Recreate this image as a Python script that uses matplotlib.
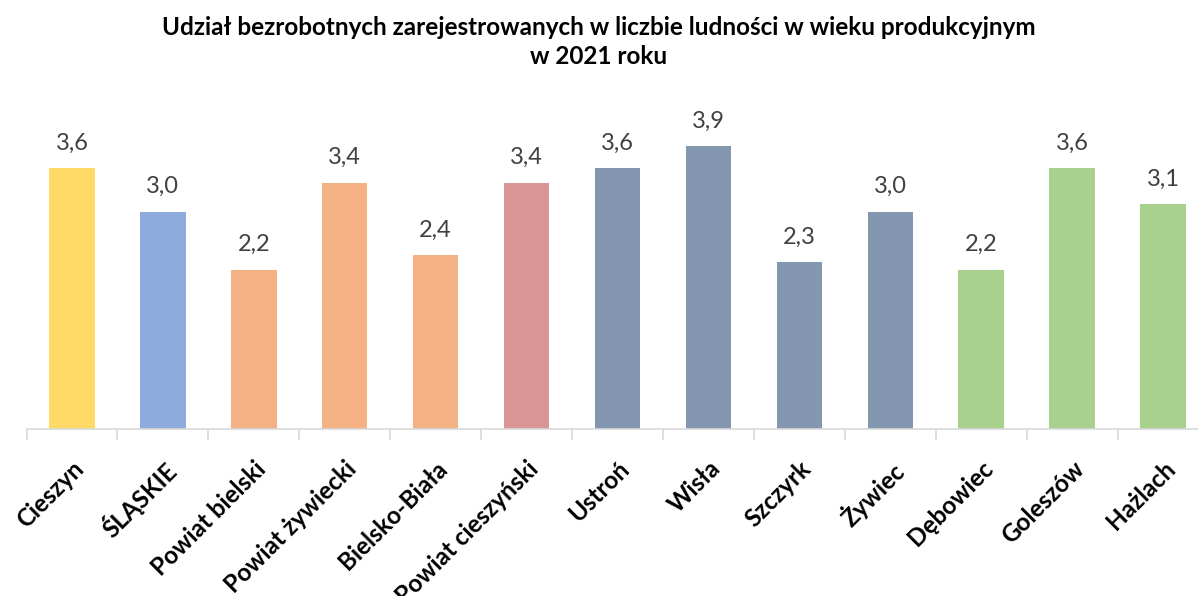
import matplotlib
matplotlib.use('Agg')
from matplotlib import pyplot as plt
import numpy as np

categories = ['Cieszyn', 'ŚLĄSKIE', 'Powiat bielski', 'Powiat żywiecki', 'Bielsko-Biała',
              'Powiat cieszyński', 'Ustroń', 'Wisła', 'Szczyrk', 'Żywiec', 'Dębowiec',
              'Goleszów', 'Hażlach']
values = [3.6, 3.0, 2.2, 3.4, 2.4, 3.4, 3.6, 3.9, 2.3, 3.0, 2.2, 3.6, 3.1]
colors = ['#FFD966', '#8FAADC', '#F4B183', '#F4B183', '#F4B183', '#D99694',
          '#8497B0', '#8497B0', '#8497B0', '#8497B0', '#A9D18E', '#A9D18E', '#A9D18E']

plt.rcParams['font.family'] = ['Lato', 'DejaVu Sans']

fig = plt.figure(figsize=(11.98, 5.96), dpi=100)
ax = fig.add_axes([26.5 / 1198, 1 - 429 / 596, 1182 / 1198, 326 / 596])

x = np.arange(len(categories))
ax.bar(x, values, width=0.5, color=colors)
for xi, v in zip(x, values):
    ax.text(xi, v + 0.2, f'{v:.1f}'.replace('.', ','), ha='center', va='bottom',
            fontsize=17, color='#404040')

ax.set_xlim(-0.5, len(categories) - 0.5)
ax.set_ylim(0, 4.5)
ax.set_yticks([])
for s in ['top', 'right', 'left']:
    ax.spines[s].set_visible(False)
ax.spines['bottom'].set_color('#D9D9D9')
ax.spines['bottom'].set_linewidth(1.2)

ax.set_xticks(x)
ax.set_xticklabels(categories, rotation=45, ha='right', rotation_mode='anchor',
                   fontsize=17.5, fontweight='bold')
ax.tick_params(axis='x', which='major', length=0, pad=20)
ax.set_xticks(np.arange(-0.5, len(categories)), minor=True)
ax.tick_params(axis='x', which='minor', length=8, color='#D9D9D9', width=1.2)

fig.text(0.5, 1 - 42 / 596, 'Udział bezrobotnych zarejestrowanych w liczbie ludności w wieku produkcyjnym\nw 2021 roku',
         ha='center', va='center', fontsize=17.5, fontweight='bold', linespacing=1.35)

fig.savefig('out.png', dpi=100)
